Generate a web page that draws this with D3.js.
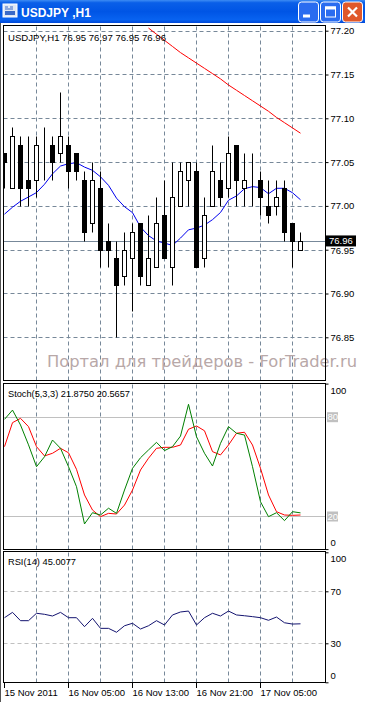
<!DOCTYPE html>
<html><head><meta charset="utf-8">
<script src="https://cdnjs.cloudflare.com/ajax/libs/d3/7.8.5/d3.min.js"></script>
<style>html,body{margin:0;padding:0;background:#fff;overflow:hidden}svg{display:block}</style>
</head><body>
<script>
// ---------- data ----------
const windowTitle = "USDJPY ,H1";
const mainHeader = "USDJPY,H1  76.95 76.97 76.95 76.96";
const stochHeader = "Stoch(5,3,3) 21.8750 20.5657";
const rsiHeader = "RSI(14) 45.0077";
const watermark = "Портал для трейдеров - ForTrader.ru";
const firstBar = "2011-11-15T21:00";
const lastBar = "2011-11-17T10:00";

const open  = [77.06,77.02,77.07,77.03,77.03,77.06,77.07,77.06,77.07,77.06,77.03,76.98,77.02,76.96,76.94,76.92,76.94,76.98,76.91,76.93,76.99,76.93,77.00,77.03,77.04,76.94,77.00,77.03,77.02,77.07,77.02,77.02,77.03,77.00,77.00,77.02,76.98,76.95];
const high  = [77.06,77.09,77.08,77.08,77.08,77.09,77.08,77.13,77.08,77.06,77.04,77.05,77.04,76.98,76.96,76.97,76.98,76.98,76.99,77.01,77.03,77.05,77.05,77.05,77.05,77.01,77.07,77.05,77.08,77.07,77.06,77.06,77.04,77.03,77.03,77.03,76.98,76.97];
const low   = [77.02,77.02,77.00,77.00,77.01,77.03,77.03,77.05,77.02,77.03,76.96,76.97,76.93,76.93,76.85,76.91,76.88,76.91,76.91,76.93,76.94,76.91,77.00,77.00,76.93,76.93,77.00,77.00,77.01,77.00,77.00,77.00,76.99,76.98,76.99,76.96,76.93,76.95];
const close = [77.05,77.08,77.02,77.02,77.07,77.06,77.05,77.08,77.04,77.04,76.97,77.03,76.95,76.95,76.91,76.95,76.97,76.92,76.94,76.98,76.94,77.01,77.04,77.05,76.93,76.99,77.04,77.01,77.06,77.03,77.03,77.02,77.01,76.99,77.01,76.97,76.96,76.96];
const maBlue = [76.9906,76.9985,77.0053,77.0102,77.0152,77.0247,77.0366,77.0455,77.0482,77.0493,77.0443,77.0406,77.0332,77.0235,77.0088,76.9991,76.9923,76.9758,76.9661,76.9599,76.9576,76.9548,76.9633,76.9727,76.9747,76.9781,76.9843,76.9925,77.0065,77.0114,77.0196,77.0220,77.0209,77.0139,77.0201,77.0201,77.0150,77.0070];
const maRed = [null,null,null,null,null,null,null,null,null,null,null,null,null,null,null,null,null,null,77.203,77.196,77.189,77.182,77.175,77.169,77.163,77.157,77.151,77.145,77.138,77.132,77.126,77.120,77.114,77.108,77.101,77.095,77.089,77.083];
const stochMain = [78.4,84.0,75.0,63.0,49.8,55.8,65.9,60.9,49.8,37.7,15.2,22.0,20.6,24.7,21.6,35.7,48.8,55.2,59.9,64.5,59.5,61.9,68.3,87.5,67.9,57.9,50.2,63.9,74.0,70.0,68.9,49.8,28.6,19.6,22.0,17.2,22.6,21.9];
const stochSignal = [61.9,76.4,79.0,74.0,61.9,56.3,57.9,60.9,58.2,48.2,32.7,23.6,19.6,21.6,21.2,26.6,35.7,47.8,54.9,60.9,61.5,61.5,62.9,72.4,74.4,71.5,58.9,56.9,62.9,70.0,70.6,62.9,48.8,32.7,22.6,20.6,20.4,20.6];
const rsi = [49.7,53.8,47.4,47.4,53.1,52.3,51.0,53.8,49.7,49.7,42.8,49.2,41.5,41.5,38.5,43.5,45.4,41.0,43.5,47.4,44.1,51.8,54.1,54.8,44.1,49.7,53.1,51.0,54.8,51.8,51.2,50.5,49.7,47.7,50.2,45.8,44.8,45.0];
const currentPrice = 76.96;
const priceTicks = [76.85,76.90,76.95,77.00,77.05,77.10,77.15,77.20];
const stochTicks = [100,80,20,0];
const stochLevels = [80,20];
const rsiTicks = [100,70,30,0];
const rsiLevels = [70,30];
const timeTicks = ["2011-11-15T21:00","2011-11-16T05:00","2011-11-16T13:00","2011-11-16T21:00","2011-11-17T05:00"];
const timeTickLabels = ["15 Nov 2011","16 Nov 05:00","16 Nov 13:00","16 Nov 21:00","17 Nov 05:00"];

// ---------- setup ----------
const W = 365, H = 702;
const parse = d3.timeParse("%Y-%m-%dT%H:%M");
const times = d3.timeHour.range(parse(firstBar), d3.timeHour.offset(parse(lastBar), 1));
const bars = times.map((t, i) => ({t, o: open[i], h: high[i], l: low[i], c: close[i]}));
const gridTimes = times.filter((d, i) => i > 0 && i % 4 === 0);

const FONT = "'Liberation Sans', Arial, sans-serif";
const svg = d3.select("body").append("svg").attr("width", W).attr("height", H)
  .style("font-family", FONT);

const L = 3.5, R = 325.5;
const x = d3.scaleTime().domain([parse(firstBar), parse(lastBar)]).range([4.5, 300.5]);
const panels = {
  main: {top: 25.5, bottom: 380.5},
  stoch: {top: 383.5, bottom: 549.5},
  rsi: {top: 551.5, bottom: 682.5}
};
const yMain = d3.scaleLinear().domain([76.85, 77.20]).range([337.3, 30.7]);
const yStoch = d3.scaleLinear().domain([0, 100]).range([549.1, 383.6]);
const yRsi = d3.scaleLinear().domain([0, 100]).range([682.3, 552.3]);
const GRID = "#778899";

svg.append("rect").attr("width", W).attr("height", H).attr("fill", "#fff");

// ---------- window title bar ----------
const defs = svg.append("defs");
const tg = defs.append("linearGradient").attr("id", "tb").attr("x1", 0).attr("x2", 0).attr("y1", 0).attr("y2", 1);
[[0,"#3d8cf4"],[0.12,"#0a5fe8"],[0.5,"#0055e5"],[0.85,"#0862f0"],[1,"#0048d8"]].forEach(s => tg.append("stop").attr("offset", s[0]).attr("stop-color", s[1]));
svg.append("rect").attr("x", 0).attr("y", 0).attr("width", W).attr("height", 23).attr("fill", "url(#tb)");
const ic = svg.append("g").attr("transform", "translate(3,4)");
ic.append("rect").attr("width", 14).attr("height", 13).attr("fill", "#dfe8f5").attr("stroke", "#fff");
ic.append("rect").attr("x", 2).attr("y", 7).attr("width", 10).attr("height", 4).attr("fill", "#3a6ac8");
ic.append("path").attr("d", "M2,3h3M7,3h3M2,5h8").attr("stroke", "#3a6ac8").attr("fill", "none");
svg.append("text").attr("x", 21).attr("y", 16.5).attr("fill", "#fff").attr("font-weight", "bold")
  .attr("font-size", 12).text(windowTitle);
function btn(x0, color) {
  const g = svg.append("g").attr("transform", `translate(${x0},1.5)`);
  g.append("rect").attr("x", 0.5).attr("y", 0.5).attr("width", 20).attr("height", 20).attr("rx", 3)
    .attr("fill", color).attr("stroke", "#fff");
  return g;
}
const b1 = btn(298, "#2a6cf0");
b1.append("rect").attr("x", 5).attr("y", 13).attr("width", 7).attr("height", 3).attr("fill", "#fff");
const b2 = btn(320, "#2a6cf0");
b2.append("rect").attr("x", 5.5).attr("y", 5.5).attr("width", 10).attr("height", 10).attr("fill", "none").attr("stroke", "#fff");
b2.append("rect").attr("x", 5).attr("y", 5).attr("width", 11).attr("height", 3).attr("fill", "#fff");
const b3 = btn(342, "#e0582a");
b3.append("path").attr("d", "M6,6L15,15M15,6L6,15").attr("stroke", "#fff").attr("stroke-width", 2.2);

// ---------- panels ----------
Object.entries(panels).forEach(([k, p]) => {
  defs.append("clipPath").attr("id", "clip-" + k).append("rect")
    .attr("x", L + 0.5).attr("y", p.top + 0.5).attr("width", R - L - 1).attr("height", p.bottom - p.top - 1);
});
Object.values(panels).forEach(p => {
  svg.append("g").selectAll("line").data(gridTimes).join("line")
    .attr("x1", d => x(d)).attr("x2", d => x(d)).attr("y1", p.top + 1).attr("y2", p.bottom)
    .attr("stroke", GRID).attr("stroke-dasharray", "4,3");
});

// ---------- main panel ----------
const gm = svg.append("g").attr("clip-path", "url(#clip-main)");
gm.selectAll("line.hg").data(priceTicks).join("line").attr("class", "hg")
  .attr("x1", L).attr("x2", R).attr("y1", d => Math.round(yMain(d)) + 0.5).attr("y2", d => Math.round(yMain(d)) + 0.5)
  .attr("stroke", GRID).attr("stroke-dasharray", "4,3");
svg.append("text").attr("x", 47).attr("y", 366.5).attr("fill", "#b8a8a8")
  .attr("font-family", "'DejaVu Sans', sans-serif").attr("font-size", 16)
  .attr("textLength", 310).attr("lengthAdjust", "spacingAndGlyphs").text(watermark);
gm.append("line").attr("x1", L).attr("x2", R)
  .attr("y1", Math.round(yMain(currentPrice)) + 0.5).attr("y2", Math.round(yMain(currentPrice)) + 0.5)
  .attr("stroke", "#778899");
const lineMain = d3.line().defined(d => d.v != null).x(d => x(d.t)).y(d => yMain(d.v));
gm.append("path").datum(times.map((t, i) => ({t, v: maRed[i]})))
  .attr("d", lineMain).attr("fill", "none").attr("stroke", "#ff0000").attr("stroke-width", 1);
gm.append("path").datum(times.map((t, i) => ({t, v: maBlue[i]})))
  .attr("d", lineMain).attr("fill", "none").attr("stroke", "#0000ee").attr("stroke-width", 1);
const cg = gm.append("g").selectAll("g").data(bars).join("g");
const px = d => Math.round(x(d.t) - 0.5) + 0.5;
const py = v => Math.round(yMain(v)) + 0.5;
cg.append("line").attr("x1", px).attr("x2", px).attr("y1", d => py(d.h)).attr("y2", d => py(d.l))
  .attr("stroke", "#000");
cg.append("rect")
  .attr("x", d => px(d) - 2).attr("width", 4)
  .attr("y", d => py(Math.max(d.o, d.c))).attr("height", d => Math.max(0, py(Math.min(d.o, d.c)) - py(Math.max(d.o, d.c))))
  .attr("fill", d => d.c < d.o ? "#000" : "#fff").attr("stroke", "#000");
svg.append("text").attr("x", 8).attr("y", 40.5).attr("font-size", 9.5).attr("fill", "#000")
  .attr("textLength", 158).attr("lengthAdjust", "spacingAndGlyphs").text(mainHeader);

// ---------- stochastic panel ----------
const gs = svg.append("g").attr("clip-path", "url(#clip-stoch)");
gs.selectAll("line").data(stochLevels).join("line")
  .attr("x1", L).attr("x2", R).attr("y1", d => Math.round(yStoch(d)) + 0.5).attr("y2", d => Math.round(yStoch(d)) + 0.5)
  .attr("stroke", "#c0c0c0");
const lineS = d3.line().x(d => x(d.t)).y(d => yStoch(d.v));
gs.append("path").datum(times.map((t, i) => ({t, v: stochSignal[i]})))
  .attr("d", lineS).attr("fill", "none").attr("stroke", "#ff0000");
gs.append("path").datum(times.map((t, i) => ({t, v: stochMain[i]})))
  .attr("d", lineS).attr("fill", "none").attr("stroke", "#008000");
svg.append("text").attr("x", 8).attr("y", 397).attr("font-size", 9.5)
  .attr("textLength", 122).attr("lengthAdjust", "spacingAndGlyphs").text(stochHeader);

// ---------- RSI panel ----------
const gr = svg.append("g").attr("clip-path", "url(#clip-rsi)");
gr.selectAll("line").data(rsiLevels).join("line")
  .attr("x1", L).attr("x2", R).attr("y1", d => Math.round(yRsi(d)) + 0.5).attr("y2", d => Math.round(yRsi(d)) + 0.5)
  .attr("stroke", "#c0c0c0").attr("stroke-dasharray", "4,3");
gr.append("path").datum(times.map((t, i) => ({t, v: rsi[i]})))
  .attr("d", d3.line().x(d => x(d.t)).y(d => yRsi(d.v))).attr("fill", "none").attr("stroke", "#141470");
svg.append("text").attr("x", 8).attr("y", 565).attr("font-size", 9.5)
  .attr("textLength", 68).attr("lengthAdjust", "spacingAndGlyphs").text(rsiHeader);

// ---------- panel borders ----------
Object.values(panels).forEach(p => {
  svg.append("rect").attr("x", L).attr("y", p.top).attr("width", R - L).attr("height", p.bottom - p.top)
    .attr("fill", "none").attr("stroke", "#000");
});
svg.append("line").attr("x1", 0.5).attr("x2", 0.5).attr("y1", 23).attr("y2", H).attr("stroke", "#555");

// ---------- right axes ----------
function styleAxis(g) {
  g.select(".domain").remove();
  g.selectAll("text").attr("font-size", 9.5).attr("font-family", FONT).attr("fill", "#000");
  g.selectAll(".tick line").attr("stroke", "#000");
}
const ma = svg.append("g").attr("transform", `translate(${R},0)`)
  .call(d3.axisRight(yMain).tickValues(priceTicks).tickFormat(d3.format(".2f")).tickSize(3).tickPadding(2))
  .call(styleAxis);
ma.selectAll(".tick text").filter(d => d === 76.95).attr("dy", "0.45em");
const cpY = yMain(currentPrice);
svg.append("rect").attr("x", 326).attr("y", cpY - 5.5).attr("width", 30).attr("height", 11).attr("fill", "#000");
svg.append("text").attr("x", 329).attr("y", cpY + 3.5).attr("font-size", 9.5).attr("fill", "#fff").text(d3.format(".2f")(currentPrice));

const inset = v => v === 100 ? 6.5 : v === 0 ? -6.5 : 0;
const sa = svg.append("g").attr("transform", `translate(${R},0)`)
  .call(d3.axisRight(yStoch).tickValues(stochTicks).tickFormat(d3.format("d")).tickSize(3).tickPadding(2))
  .call(styleAxis);
sa.selectAll(".tick text").attr("y", d => inset(d));
sa.selectAll(".tick").filter(d => stochLevels.includes(d)).each(function () {
  const t = d3.select(this);
  t.insert("rect", "text").attr("x", 1.5).attr("y", -5).attr("width", 11).attr("height", 10).attr("fill", "#c0c0c0");
  t.select("text").attr("fill", "#fff").attr("x", 2);
  t.select("line").remove();
});
const ra = svg.append("g").attr("transform", `translate(${R},0)`)
  .call(d3.axisRight(yRsi).tickValues(rsiTicks).tickFormat(d3.format("d")).tickSize(3).tickPadding(2))
  .call(styleAxis);
ra.selectAll(".tick text").attr("y", d => inset(d));

// ---------- time axis ----------
const tt = timeTicks.map(parse);
const ta = svg.append("g");
ta.selectAll("line").data(tt).join("line")
  .attr("x1", d => x(d)).attr("x2", d => x(d)).attr("y1", 683).attr("y2", 688).attr("stroke", "#000");
ta.selectAll("text").data(tt).join("text")
  .attr("x", d => Math.max(4, x(d))).attr("y", 695.5).attr("font-size", 9.5)
  .text((d, i) => timeTickLabels[i]);
</script>
</body></html>
